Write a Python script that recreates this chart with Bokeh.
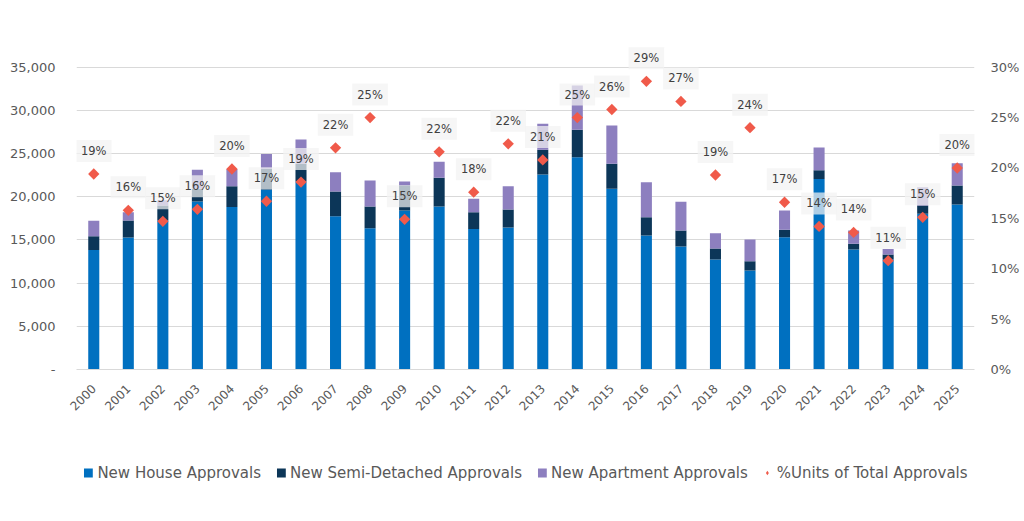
import numpy as np
from bokeh.plotting import figure
from bokeh.layouts import column
from bokeh.models import (ColumnDataSource, FactorRange, Range1d, LinearAxis, FixedTicker,
                          NumeralTickFormatter, PrintfTickFormatter, Legend, LegendItem)
from bokeh.core.properties import value
from bokeh.embed import file_html
from bokeh.resources import INLINE

# ---------------- data ----------------
years = [str(y) for y in range(2000, 2026)]
house = [13850, 15280, 17300, 19450, 18800, 20840, 21800, 17750, 16360, 18400,
         18870, 16280, 16440, 22570, 24580, 20920, 15510, 14240, 12730, 11460,
         15320, 22070, 13890, 12800, 18020, 19100]
semi = [1590, 1970, 1700, 1470, 2430, 2390, 2010, 2850, 2510, 2900,
        3320, 1930, 2080, 2860, 3170, 2890, 2130, 1850, 1280, 1080,
        850, 1010, 660, 510, 970, 2200]
apartment = [1770, 970, 600, 2200, 1970, 1720, 2820, 2240, 3010, 460,
             1870, 1550, 2700, 3010, 5130, 4440, 4050, 3320, 1770, 2510,
             2240, 2620, 1540, 640, 2110, 2590]
pct_units = [19.4, 15.8, 14.7, 15.9, 19.9, 16.7, 18.6, 22.0, 25.0, 14.9,
             21.6, 17.6, 22.4, 20.8, 25.0, 25.8, 28.6, 26.6, 19.3, 24.0,
             16.6, 14.2, 13.6, 10.8, 15.1, 20.0]
left_ticks = [0, 5000, 10000, 15000, 20000, 25000, 30000, 35000]
right_ticks = [0, 5, 10, 15, 20, 25, 30]
series_names = ["New House Approvals", "New Semi-Detached Approvals",
                "New Apartment Approvals", "%Units of Total Approvals"]

# ---------------- style ----------------
FONT = "DejaVu Sans"
C_HOUSE = "#0070C0"
C_SEMI = "#0C3658"
C_APT = "#8D7FBF"
C_PCT = "#F05A4A"
GRID = "#D9D9D9"
TXT = "#595959"

src = ColumnDataSource(dict(
    year=years, house=house, semi=semi, apartment=apartment, pct=pct_units,
    label=[f"{int(v + 0.5)}%" for v in pct_units],
))

p = figure(x_range=FactorRange(*years, range_padding=0),
           y_range=Range1d(0, 38092),
           width=1024, height=440,
           output_backend="svg", toolbar_location=None,
           min_border_left=76, min_border_right=50,
           min_border_top=40, min_border_bottom=71)
p.extra_y_ranges = {"pct": Range1d(0, 32.65)}
p.outline_line_color = None
p.background_fill_color = "white"

bars = p.vbar_stack(["house", "semi", "apartment"], x="year", width=0.32,
                    color=[C_HOUSE, C_SEMI, C_APT], line_color=None, source=src)

pts = p.scatter(x="year", y="pct", y_range_name="pct", source=src,
                marker="square", angle=np.pi / 4, size=8,
                fill_color=C_PCT, line_color=None)

p.text(x="year", y="pct", text="label", y_range_name="pct", source=src,
       y_offset=-23, text_align="center", text_baseline="middle",
       text_font=value(FONT), text_font_size="11.5px", text_color="#404040",
       background_fill_color="#F2F2F2", background_fill_alpha=0.72,
       padding=(5, 4))

# axes
xa = p.xaxis[0]
xa.major_label_orientation = np.pi / 4
xa.axis_line_color = GRID
xa.major_tick_line_color = None
xa.major_tick_out = 0
xa.minor_tick_line_color = None
xa.major_label_text_font = FONT
xa.major_label_text_font_size = "12px"
xa.major_label_text_color = TXT
xa.major_label_standoff = 17

ya = p.yaxis[0]
ya.ticker = FixedTicker(ticks=left_ticks)
ya.formatter = NumeralTickFormatter(format="0,0")
ya.major_label_overrides = {0: "-"}
ya.axis_line_color = None
ya.major_tick_line_color = None
ya.major_tick_out = 0
ya.minor_tick_line_color = None
ya.major_label_text_font = FONT
ya.major_label_text_font_size = "13px"
ya.major_label_text_color = TXT
ya.major_label_standoff = 21

ra = LinearAxis(y_range_name="pct", ticker=FixedTicker(ticks=right_ticks),
                formatter=PrintfTickFormatter(format="%d%%"))
ra.axis_line_color = None
ra.major_tick_line_color = None
ra.major_tick_out = 0
ra.minor_tick_line_color = None
ra.major_label_text_font = FONT
ra.major_label_text_font_size = "13px"
ra.major_label_text_color = TXT
ra.major_label_standoff = 16
p.add_layout(ra, "right")

p.xgrid.grid_line_color = None
p.ygrid.ticker = FixedTicker(ticks=left_ticks)
p.ygrid.grid_line_color = GRID
p.ygrid.grid_line_width = 1

# ---------------- legend strip ----------------
# same series again with zero-width bars / off-window points, only as legend keys
lg = figure(width=1024, height=65, x_range=FactorRange(*years), y_range=Range1d(-2, -1),
            output_backend="svg", toolbar_location=None, min_border=0,
            x_axis_location=None, y_axis_location=None)
lg.grid.visible = False
lg.outline_line_color = None
lg_bars = lg.vbar_stack(["house", "semi", "apartment"], x="year", width=0,
                        color=[C_HOUSE, C_SEMI, C_APT], line_color=None, source=src)
lg_pts = lg.scatter(x="year", y="pct", source=src, marker="diamond", size=8,
                    fill_color=C_PCT, line_color=None)

legend = Legend(items=[LegendItem(label=series_names[0], renderers=[lg_bars[0]]),
                       LegendItem(label=series_names[1], renderers=[lg_bars[1]]),
                       LegendItem(label=series_names[2], renderers=[lg_bars[2]]),
                       LegendItem(label=series_names[3], renderers=[lg_pts])],
                orientation="horizontal", location="center",
                label_text_font=FONT, label_text_font_size="15px",
                label_text_color=TXT, glyph_width=11, glyph_height=11,
                label_standoff=4, spacing=14, padding=0, margin=0,
                border_line_color=None, background_fill_alpha=0)
lg.add_layout(legend, "center")

open("out.html", "w").write(file_html(column(p, lg, spacing=0), INLINE))
